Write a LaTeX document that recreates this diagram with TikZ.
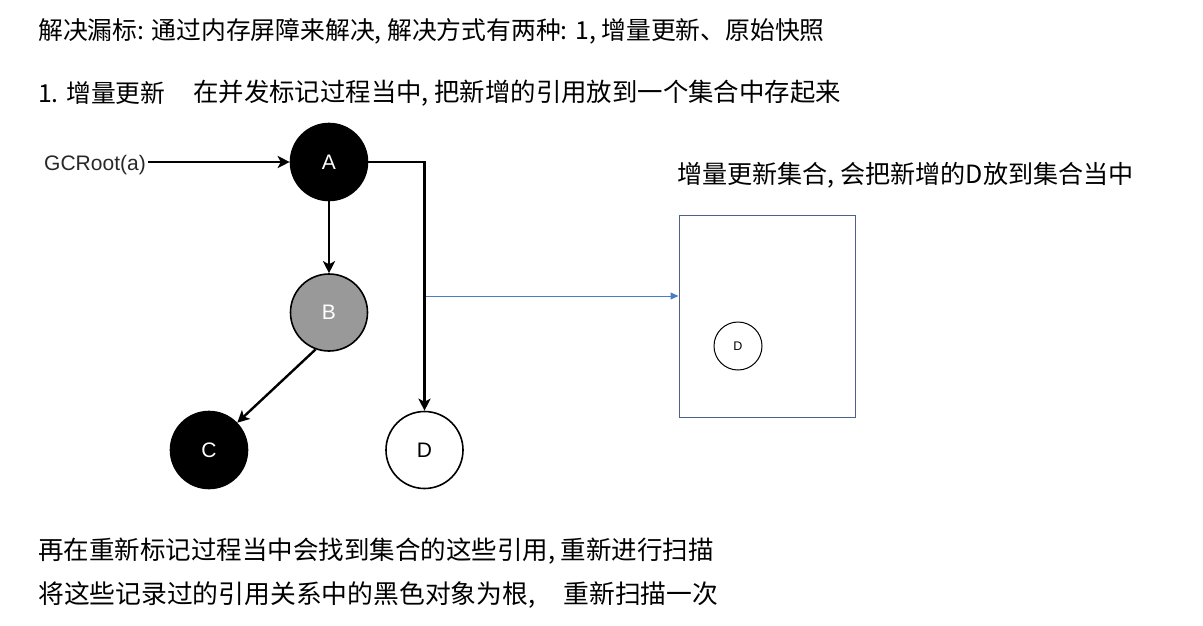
\documentclass[tikz,border=0pt]{standalone}
\usepackage{fontspec}
\setmainfont{Liberation Sans}
\newfontfamily\cjk{Noto Sans CJK SC}
\usetikzlibrary{arrows.meta}
\definecolor{nodegray}{RGB}{153,153,153}
\definecolor{linkblue}{RGB}{74,125,196}
\definecolor{boxline}{RGB}{80,96,140}
\tikzset{
  txt/.style={anchor=west, inner sep=0pt, font=\cjk\fontsize{24.8}{28}\selectfont},
  obj/.style={circle, draw=black, line width=1.6pt, minimum size=77pt, inner sep=0pt, font=\fontsize{21}{24}\selectfont},
  blk/.style={obj, fill=black, text=white},
  gry/.style={obj, fill=nodegray, text=white},
  wht/.style={obj, fill=white, text=black},
  edge/.style={line width=2.4pt, -{Stealth[length=12pt,width=12pt,inset=3pt]}},
  bluelink/.style={draw=linkblue, line width=1pt, -{Triangle[length=8pt,width=7pt]}},
}
\begin{document}
\begin{tikzpicture}[x=1pt,y=-1pt]
\useasboundingbox[fill=white] (0,0) rectangle (1203,625);
% texts
\node[txt] (t1) at (38,31) {解决漏标: 通过内存屏障来解决, 解决方式有两种: 1, 增量更新、原始快照};
\node[txt] (t2) at (38,93.5) {1. 增量更新};
\node[txt, font=\cjk\fontsize{25.4}{28}\selectfont] (t3) at (193,93.5) {在并发标记过程当中, 把新增的引用放到一个集合中存起来};
\node[txt, font=\cjk\fontsize{25.1}{28}\selectfont] (t4) at (677,175) {增量更新集合, 会把新增的D放到集合当中};
\node[txt, font=\cjk\fontsize{25.5}{28}\selectfont] (t5) at (38,551.5) {再在重新标记过程当中会找到集合的这些引用, 重新进行扫描};
\node[txt, font=\cjk\fontsize{25.8}{28}\selectfont] (t6) at (38,595) {将这些记录过的引用关系中的黑色对象为根,\hspace{28pt}重新扫描一次};
% graph
\node[anchor=center, inner sep=2pt, font=\fontsize{21}{24}\selectfont, text={rgb,255:red,40;green,40;blue,40}] (gc) at (95,165) {GCRoot(a)};
\node[blk] (A) at (329,162) {A};
\node[gry] (B) at (329,312.5) {B};
\node[blk] (C) at (209,450) {C};
\node[wht] (D) at (424.5,450) {D};
\draw[edge] (gc.east |- A.west) -- (A.west);
\draw[edge] (A.south) -- (B.north);
\draw[edge] (B.250) -- (C.44);
\draw[edge] (A.east) -| (D.north);
% set box
\node[draw=boxline, line width=1pt, minimum width=176pt, minimum height=202pt, inner sep=0pt] (set) at (767,316.5) {};
\node[circle, draw=black, line width=1pt, minimum size=48pt, inner sep=0pt, font=\fontsize{12.5}{14}\selectfont] (d2) at (738,346) {D};
\coordinate (bs) at (426,296);
\draw[bluelink] (bs) -- (bs -| set.west);
\end{tikzpicture}
\end{document}
